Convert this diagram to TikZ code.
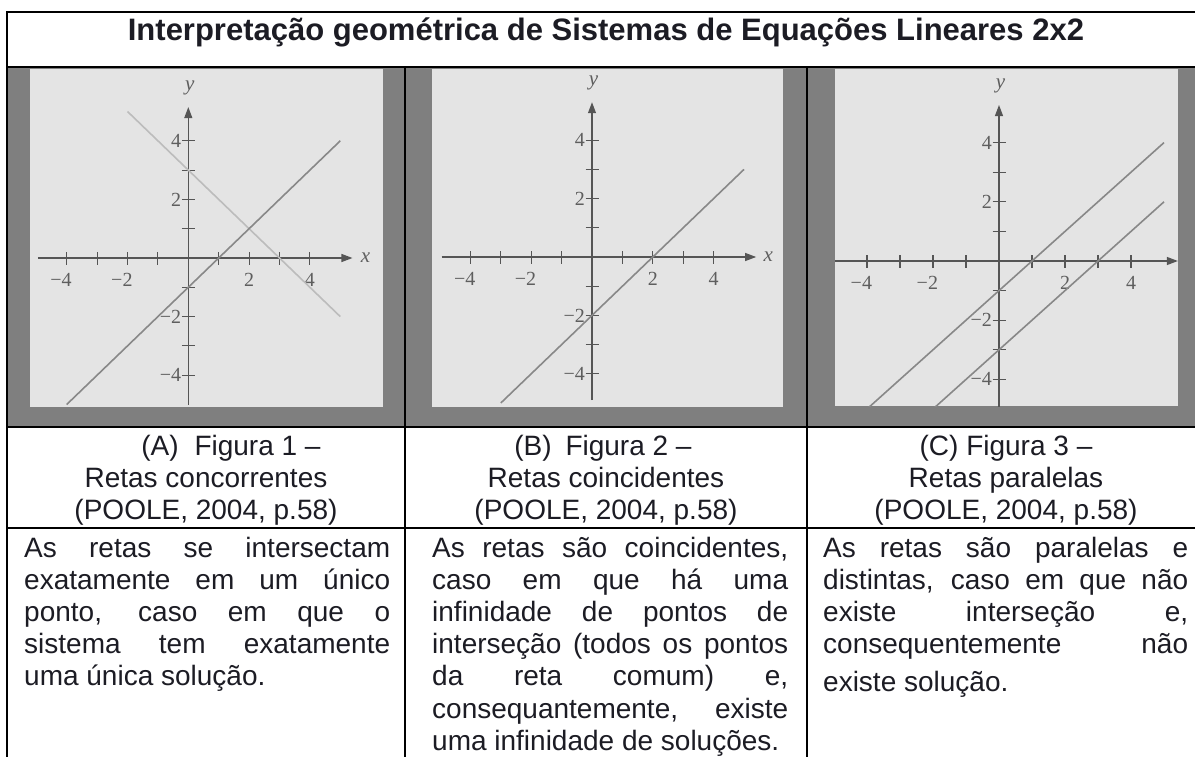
\documentclass[tikz,border=0pt]{standalone}
\usepackage{fontspec}
\setmainfont{Liberation Sans}
\newfontfamily\gfont{Liberation Serif}
\usetikzlibrary{arrows.meta}
\definecolor{frame}{HTML}{7F7F7F}
\definecolor{panel}{HTML}{E4E4E4}
\definecolor{axiscol}{HTML}{555555}
\definecolor{lblcol}{HTML}{5E5E5E}
\definecolor{glinecol}{HTML}{888888}
\definecolor{flinecol}{HTML}{BCBCBC}
\definecolor{ink}{HTML}{1C1C24}
\newcommand{\gaxes}[5]{%
  \draw[gaxis] (#2,0) -- (#3,0);
  \draw[gaxis] (0,#4) -- (0,#5);
  \foreach \i in {-4,-3,-2,-1,1,2,3,4} {
    \draw[gtick] (\i,0) +(0pt,-6.5pt) -- +(0pt,6.5pt);
    \draw[gtick] (0,\i) +(-6.5pt,0pt) -- +(6.5pt,0pt);
  }
  \foreach \i/\t in {-4/m4,-2/m2} {
    \path (\i,0) ++(0pt,-22pt) node[glab] (#1x\t) {\llap{−}\the\numexpr-\i\relax};
    \path (0,\i) ++(-7pt,0pt) node[glab,anchor=east] (#1y\t) {−\the\numexpr-\i\relax};
  }
  \foreach \i in {2,4} {
    \path (\i,0) ++(0pt,-22pt) node[glab] (#1x\i) {\i};
    \path (0,\i) ++(-7pt,0pt) node[glab,anchor=east] (#1y\i) {\i};
  }
}
\begin{document}
\begin{tikzpicture}[x=1pt,y=-1pt,
  rule/.style={draw=black,line width=1.2pt},
  gaxis/.style={draw=axiscol,line width=1.1pt,-{Triangle[length=11pt,width=8pt]}},
  gtick/.style={draw=axiscol,line width=1.1pt},
  glab/.style={inner sep=0pt,text=lblcol,font=\gfont\fontsize{20}{20}\selectfont},
  gvar/.style={inner sep=0pt,text=lblcol,font=\gfont\itshape\fontsize{21}{21}\selectfont},
  gline/.style={draw=glinecol,line width=1.6pt},
  fline/.style={draw=flinecol,line width=1.6pt},
  txt/.style={inner sep=0pt,anchor=base west,text=ink,font=\fontsize{28}{32}\selectfont},
  captxt/.style={inner sep=0pt,anchor=base,text=ink,font=\fontsize{28}{32}\selectfont},
  titletxt/.style={inner sep=0pt,anchor=base,text=ink,font=\bfseries\fontsize{31}{36}\selectfont}]
\useasboundingbox (0,0) rectangle (1195,757);
\fill[white] (0,0) rectangle (1195,757);
% graph row background
\fill[frame] (7,67) rectangle (1210,427);
\fill[panel] (30,69) rectangle (383,407);
\fill[panel] (432,69) rectangle (783,407);
\fill[panel] (835,69) rectangle (1178,406);
% panel 1
\begin{scope}
\clip (30,69) rectangle (383,407);
\begin{scope}[shift={(188.3,258)},x=30.4pt,y=29.3pt]
  \gaxes{pa}{-4.95}{5.4}{-5}{5.15}
  \path (5.83,0) node[gvar] (pax) {x};
  \path (0.05,5.8) node[gvar] (pay) {y};
  \draw[fline] (-2,5) -- (5,-2);
  \draw[gline] (-4,-5) -- (5,4);
\end{scope}
\end{scope}
% panel 2
\begin{scope}
\clip (432,69) rectangle (783,407);
\begin{scope}[shift={(592,257)},x=30.4pt,y=29.2pt]
  \gaxes{pb}{-4.95}{5.4}{-4.9}{5.3}
  \path (5.8,0) node[gvar] (pbx) {x};
  \path (0.05,5.95) node[gvar] (pby) {y};
  \draw[gline] (-3,-5) -- (5,3);
\end{scope}
\end{scope}
% panel 3
\begin{scope}
\clip (835,69) rectangle (1178,406);
\begin{scope}[shift={(999,261)},x=33pt,y=29.6pt]
  \gaxes{pc}{-5.1}{5.42}{-5}{5.27}
  \path (0.05,5.9) node[gvar] (pcy) {y};
  \draw[gline] (-4,-5) -- (5,4);
  \draw[gline] (-2,-5) -- (5,2);
\end{scope}
\end{scope}
% table rules
\draw[rule] (1210,12) -- (7,12) -- (7,770);
\draw[rule] (7,67) -- (1210,67);
\draw[rule] (7,427) -- (1210,427);
\draw[rule] (7,528) -- (1210,528);
\draw[rule] (405,67) -- (405,770);
\draw[rule] (807,67) -- (807,770);
% title
\node[titletxt] (title) at (606,41) {Interpretação geométrica de Sistemas de Equações Lineares 2x2};
% captions
\node[captxt] (ca1) at (231,455) {(A)\hspace{8pt} Figura 1 –};
\node[captxt] (ca2) at (206,487) {Retas concorrentes};
\node[captxt] (ca3) at (206,519) {(POOLE, 2004, p.58)};
\node[captxt] (cb1) at (603,455) {(B)\hspace{6pt} Figura 2 –};
\node[captxt] (cb2) at (606,487) {Retas coincidentes};
\node[captxt] (cb3) at (606,519) {(POOLE, 2004, p.58)};
\node[captxt] (cc1) at (1006,455) {(C) Figura 3 –};
\node[captxt] (cc2) at (1006,487) {Retas paralelas};
\node[captxt] (cc3) at (1006,519) {(POOLE, 2004, p.58)};
% column 1 text
\node[txt] (ta1) at (24,557) {\makebox[366pt][s]{As retas se intersectam}};
\node[txt] (ta2) at (24,589.2) {\makebox[366pt][s]{exatamente em um único}};
\node[txt] (ta3) at (24,621.4) {\makebox[366pt][s]{ponto, caso em que o}};
\node[txt] (ta4) at (24,653.6) {\makebox[366pt][s]{sistema tem exatamente}};
\node[txt] (ta5) at (24,685.8) {uma única solução.};
% column 2 text
\node[txt] (tb1) at (432,557) {\makebox[356pt][s]{As retas são coincidentes,}};
\node[txt] (tb2) at (432,589.2) {\makebox[356pt][s]{caso em que há uma}};
\node[txt] (tb3) at (432,621.4) {\makebox[356pt][s]{infinidade de pontos de}};
\node[txt] (tb4) at (432,653.6) {\makebox[356pt][s]{interseção (todos os pontos}};
\node[txt] (tb5) at (432,685.8) {\makebox[356pt][s]{da reta comum) e,}};
\node[txt] (tb6) at (432,718) {\makebox[356pt][s]{consequantemente, existe}};
\node[txt] (tb7) at (432,750.2) {uma infinidade de soluções.};
% column 3 text
\node[txt] (tc1) at (823,557) {\makebox[365pt][s]{As retas são paralelas e}};
\node[txt] (tc2) at (823,589.2) {\makebox[365pt][s]{distintas, caso em que não}};
\node[txt] (tc3) at (823,621.4) {\makebox[365pt][s]{existe interseção e,}};
\node[txt] (tc4) at (823,653.6) {\makebox[365pt][s]{consequentemente não}};
\node[txt] (tc5) at (823,691) {existe solução.};
\end{tikzpicture}
\end{document}
